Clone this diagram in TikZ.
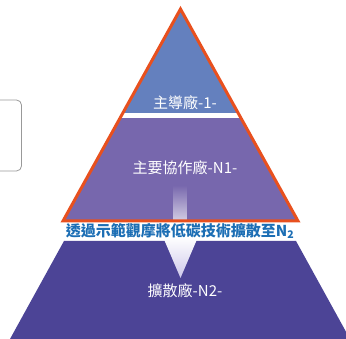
\documentclass[tikz,border=0pt]{standalone}
\usepackage{fontspec}
\newfontfamily\cjk{Noto Sans CJK TC}
\usetikzlibrary{fadings}
\definecolor{tierone}{RGB}{100,128,190}
\definecolor{tiertwo}{RGB}{119,103,173}
\definecolor{tierthree}{RGB}{76,68,150}
\definecolor{rim}{RGB}{232,80,30}
\definecolor{bandtext}{RGB}{28,110,180}
\definecolor{lilac}{RGB}{205,200,234}
\begin{document}
\begin{tikzpicture}[x=1pt,y=-1pt,
    tier/.style={font=\cjk\fontsize{15}{18}\selectfont, text=white},
    band/.style={font=\cjk\bfseries\fontsize{15}{18}\selectfont, text=bandtext}]
  \useasboundingbox (0,0) rectangle (346,339);
  \coordinate (apex) at (180.5,9);
  \coordinate (left) at (63,221);
  \coordinate (right) at (298,221);
  % tiers
  \begin{scope}
    \clip (apex) -- (left) -- (right) -- cycle;
    \fill[tiertwo] (0,0) rectangle (346,221);
    \fill[tierone] (0,0) rectangle (346,113);
    \fill[white] (0,113) rectangle (346,118);
  \end{scope}
  \fill[tierthree] (64,241) -- (296,241) -- (350,339) -- (10,339) -- cycle;
  % arrow
  \fill[white, path fading=north] (173,185) rectangle (187,238);
  \shade[top color=white, bottom color=lilac]
    (198,237) -- (180.5,278) -- (163,237) -- cycle;
  \draw[rim, line width=3pt, line join=miter] (apex) -- (left) -- (right) -- cycle;
  % side box
  \draw[black!40, rounded corners=5pt, line width=0.8pt] (-10,100) rectangle (21.5,171);
  % labels
  \node[tier] (lead) at (185,103) {主導廠-1-};
  \node[tier] (core) at (185,168) {主要協作廠-N1-};
  \node[tier] (spread) at (185,291) {擴散廠-N2-};
  \node[band] (via) at (180,231) {透過示範觀摩將低碳技術擴散至N\textsubscript{2}};
\end{tikzpicture}
\end{document}
